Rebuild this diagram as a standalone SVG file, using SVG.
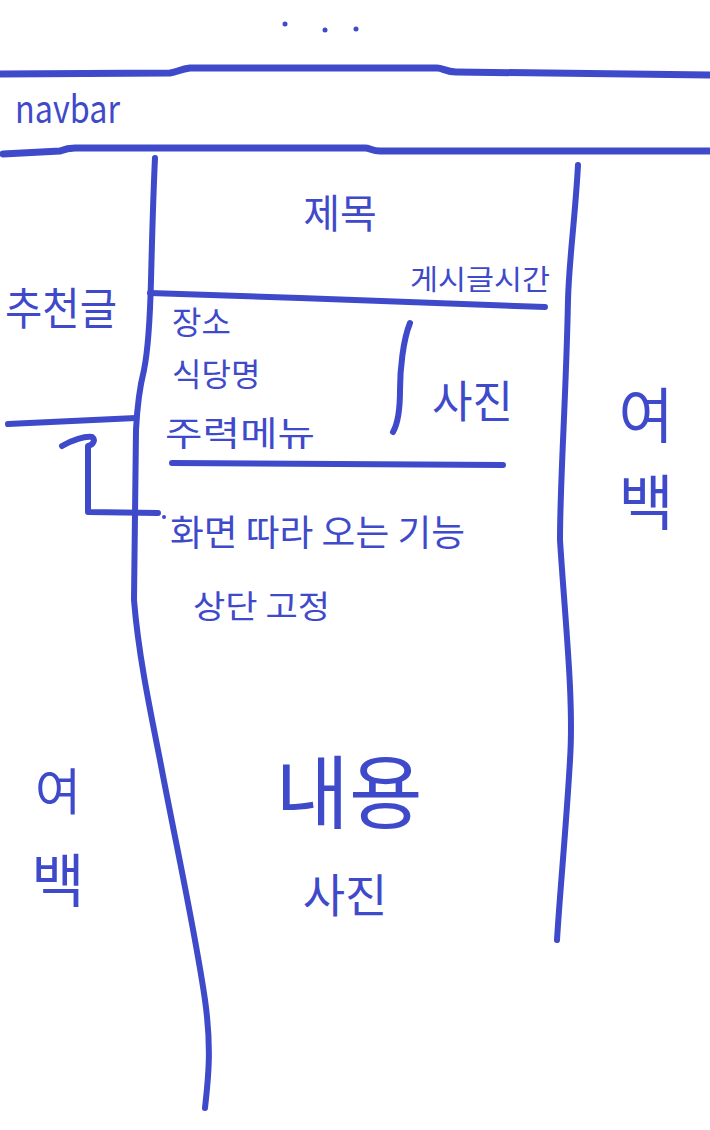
<svg xmlns="http://www.w3.org/2000/svg" width="710" height="1130" viewBox="0 0 710 1130">
<style>
.ln{fill:none;stroke:#3f4acb;stroke-width:6;stroke-linecap:round;stroke-linejoin:round}
.tx{fill:#3f4acb;font-family:"Noto Sans CJK KR","Liberation Sans",sans-serif}
.dot{fill:#3f4acb}
</style>
<rect width="710" height="1130" fill="#ffffff"/>
<g id="connectors">
<path class="ln" style="stroke-width:7" d="M0,74 L170,73 C178,72 180,69 190,68 L437,68 C443,68 446,72 456,72 L710,75"/>
<path class="ln" style="stroke-width:7" d="M3,154 L60,151 C65,149 70,148 75,148 L365,148 C370,148 372,151 380,151 L710,151"/>
<path class="ln" d="M155,158 C153,200 152,240 151,280 C150,320 148,350 144,370 C139,390 137,410 136,430 L134,600 C138,650 148,700 160,760 C175,840 195,930 205,1000 C212,1050 208,1080 205,1108"/>
<path class="ln" d="M578,165 C575,220 569,260 568,300 C566,400 560,480 560,540 C565,620 574,700 570,760 C566,830 560,890 557,940"/>
<path class="ln" d="M150,293 L300,298 L545,307"/>
<path class="ln" d="M172,463 L503,465"/>
<path class="ln" d="M410,323 C403,340 400,370 400,390 C400,410 397,425 393,432"/>
<path class="ln" d="M8,424 C50,422 100,420 136,418"/>
<path class="ln" d="M62,446 C72,440 85,436 92,437 C96,440 93,445 88,446 L88,512 L158,513"/>
<circle class="dot" cx="164" cy="517" r="2"/>
</g>
<g id="dots">
<circle class="dot" cx="285" cy="24" r="2.5"/>
<circle class="dot" cx="325" cy="30" r="2.5"/>
<circle class="dot" cx="356" cy="29" r="2.5"/>
</g>
<g id="navbar"><text class="tx" x="15" y="123" font-size="38" textLength="105" lengthAdjust="spacingAndGlyphs">navbar</text></g>
<g id="title"><text class="tx" x="340" y="228" font-size="40" text-anchor="middle">제목</text></g>
<g id="time"><text class="tx" x="410" y="290" font-size="28" textLength="140" lengthAdjust="spacingAndGlyphs">게시글시간</text></g>
<g id="place"><text class="tx" x="172" y="334" font-size="32">장소</text></g>
<g id="restaurant"><text class="tx" x="172" y="386" font-size="32">식당명</text></g>
<g id="menu"><text class="tx" x="165" y="446" font-size="34" textLength="150" lengthAdjust="spacingAndGlyphs">주력메뉴</text></g>
<g id="photo1"><text class="tx" x="432" y="418" font-size="44">사진</text></g>
<g id="follow"><text class="tx" x="170" y="546" font-size="36" textLength="295" lengthAdjust="spacingAndGlyphs">화면 따라 오는 기능</text></g>
<g id="fixed"><text class="tx" x="193" y="618" font-size="32" textLength="137" lengthAdjust="spacingAndGlyphs">상단 고정</text></g>
<g id="recommend"><text class="tx" x="5" y="325" font-size="44" textLength="112" lengthAdjust="spacingAndGlyphs">추천글</text></g>
<g id="margin-right"><text class="tx" x="646" y="438" font-size="60" text-anchor="middle">여</text><text class="tx" x="646" y="525" font-size="60" text-anchor="middle">백</text></g>
<g id="margin-left"><text class="tx" x="58" y="810" font-size="50" text-anchor="middle">여</text><text class="tx" x="58" y="902" font-size="58" text-anchor="middle">백</text></g>
<g id="content"><text class="tx" x="349" y="822" font-size="80" text-anchor="middle">내용</text></g>
<g id="photo2"><text class="tx" x="345" y="912" font-size="46" text-anchor="middle">사진</text></g>
</svg>
